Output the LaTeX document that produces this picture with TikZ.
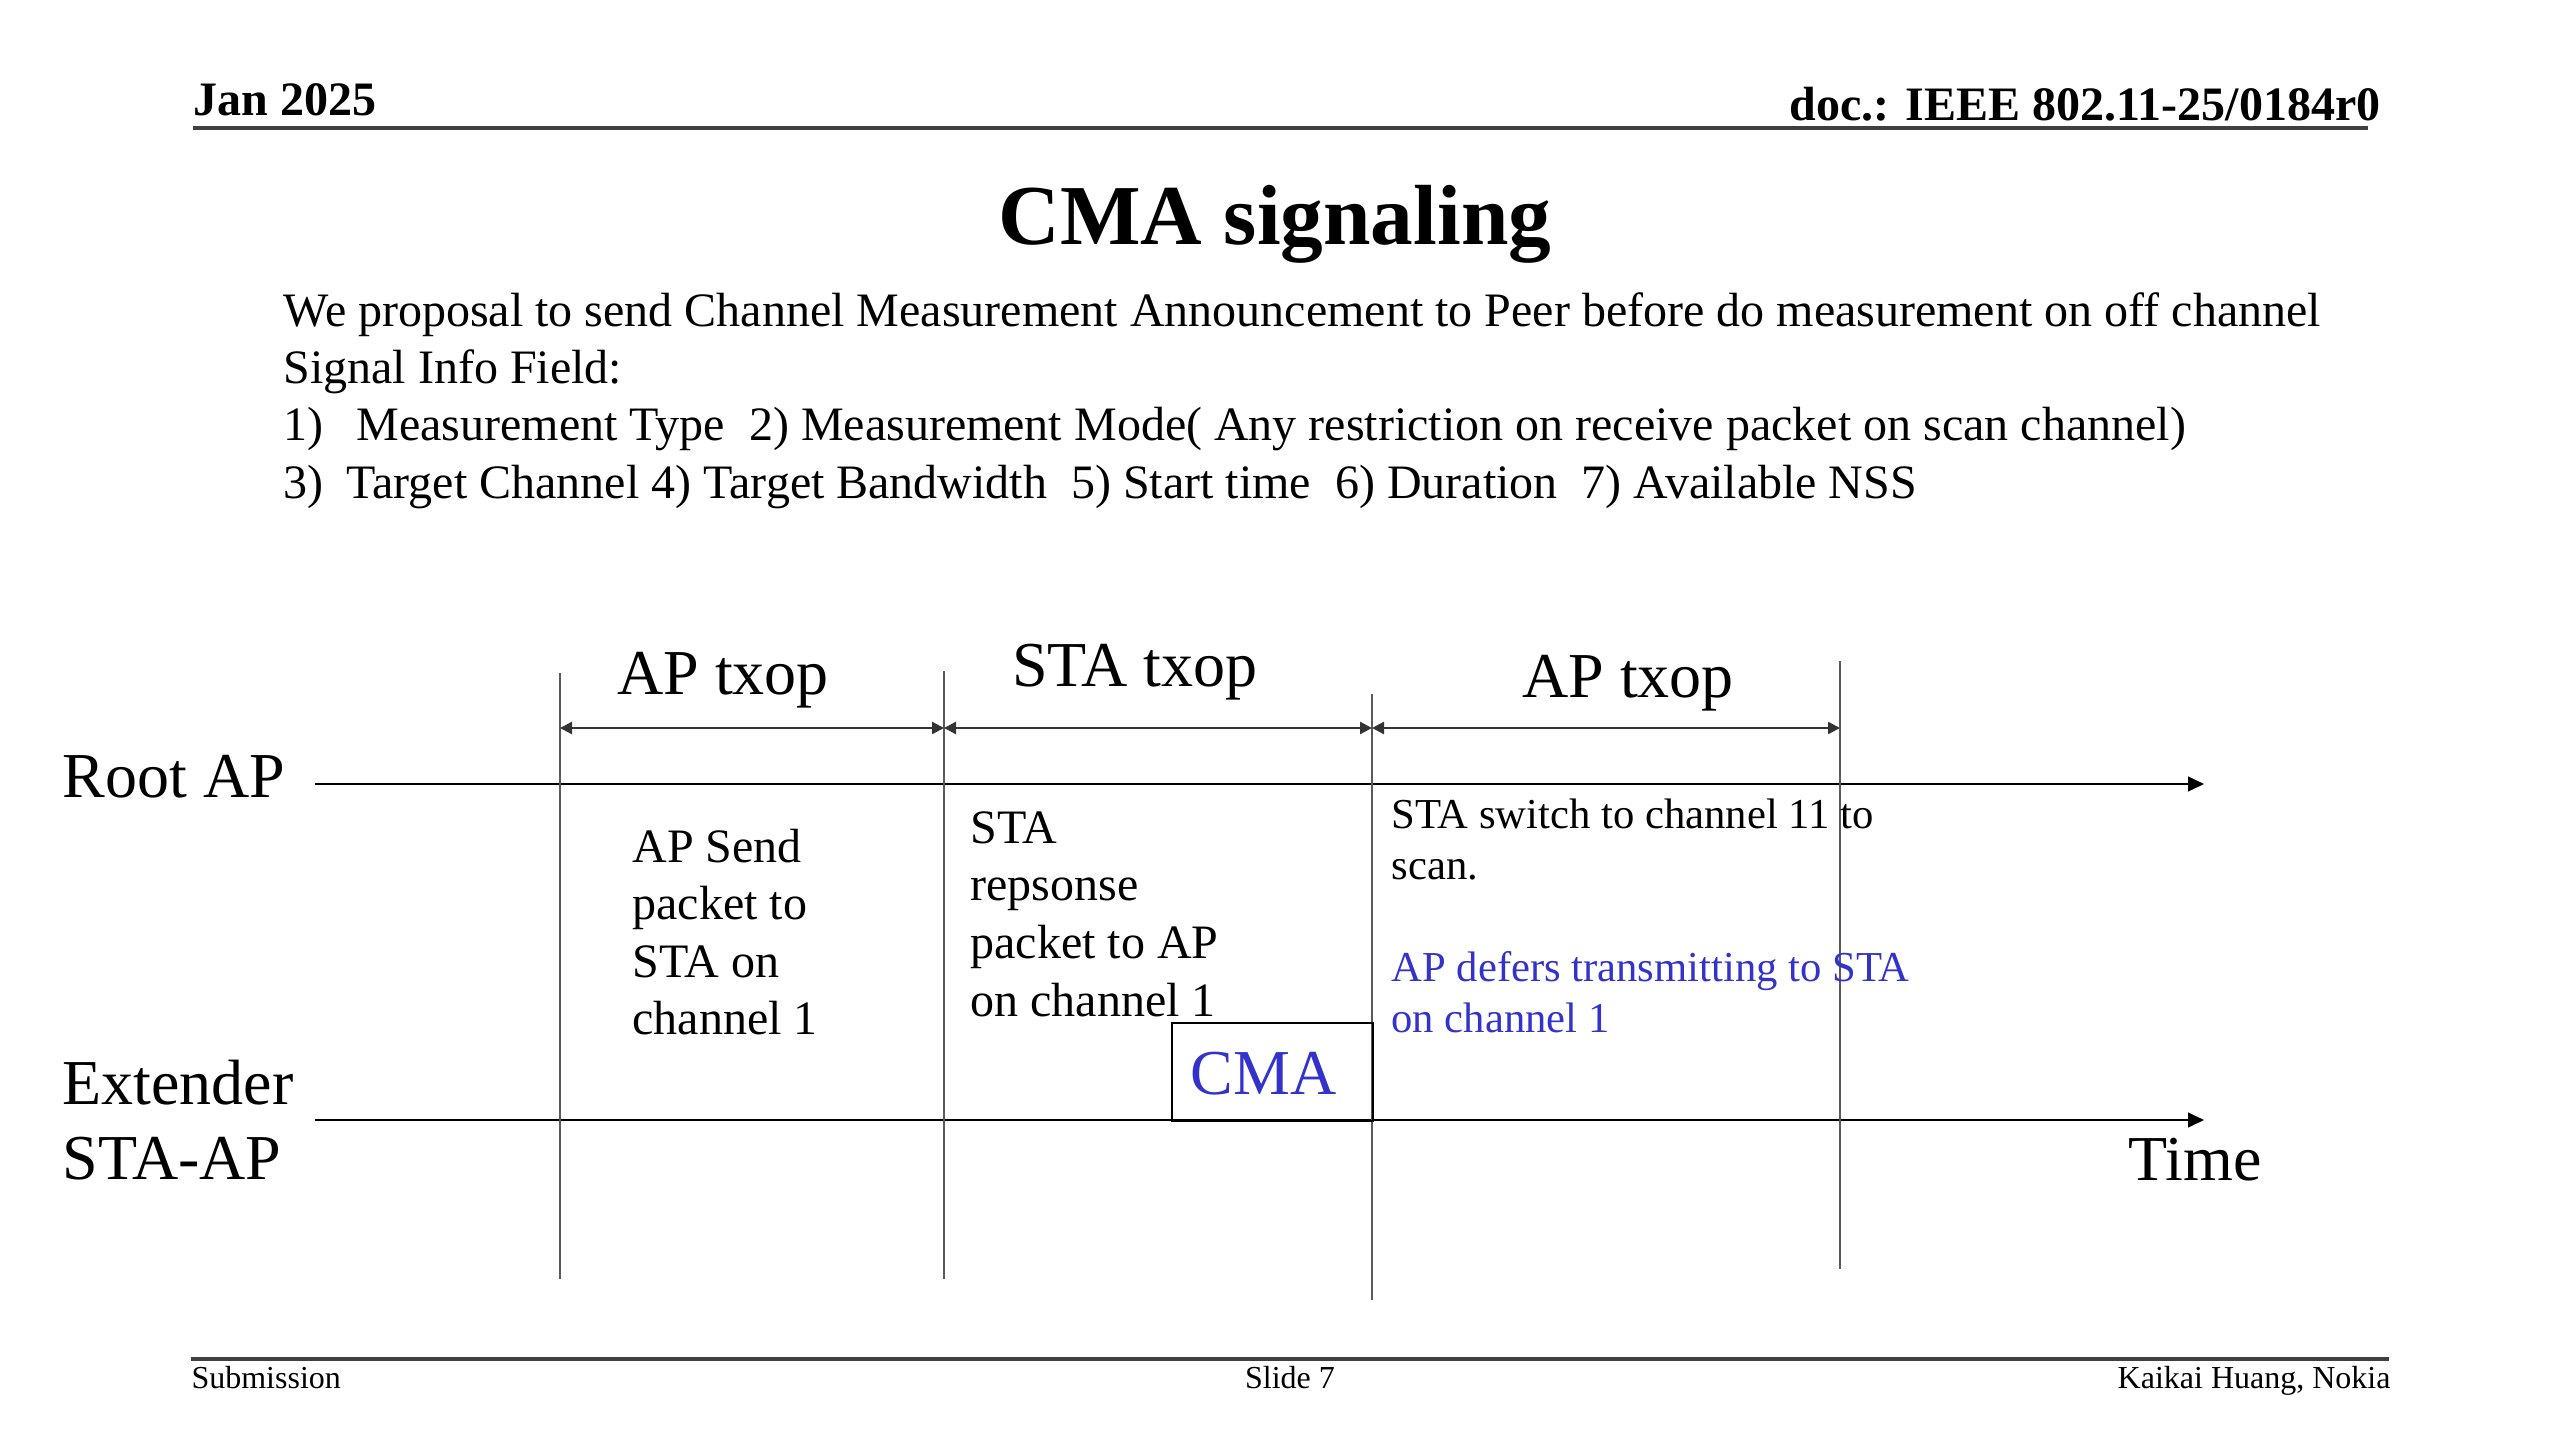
\documentclass[tikz,border=0pt]{standalone}
\usepackage{fontspec}
\setmainfont{Liberation Serif}
\usetikzlibrary{arrows.meta}
\definecolor{cmablue}{RGB}{51,51,204}
\definecolor{vgray}{RGB}{90,90,90}
\newcommand{\fs}[1]{\fontsize{#1}{1.2\dimexpr #1pt\relax}\selectfont}
\begin{document}
\begin{tikzpicture}[x=0.375pt,y=-0.375pt,
  txt/.style={inner sep=0pt, anchor=base west},
  hdr/.style={inner sep=0pt, font=\bfseries\fs{18}},
  ftr/.style={inner sep=0pt, font=\fs{12}},
  body/.style={txt, font=\fs{18}},
  big/.style={inner sep=0pt, font=\fs{24}},
  rule/.style={draw=black!75, line width=1.2pt},
  axis/.style={draw=black, line width=0.9pt, -{Triangle[length=6pt,width=5.5pt]}},
  vline/.style={draw=vgray, line width=0.75pt},
  span/.style={draw=black!80, line width=0.9pt, {Triangle[length=4.5pt,width=4.5pt]}-{Triangle[length=4.5pt,width=4.5pt]}},
  small/.style={txt, font=\fs{16}}
]
\useasboundingbox (0,0) rectangle (2560,1440);

% header
\node[hdr, anchor=base west] (date) at (193,116) {Jan 2025};
\node[hdr, anchor=base east] (doc) at (2381,121) {doc.: IEEE 802.11-25/0184r0};
\coordinate (hl) at (193,128);
\coordinate (hr) at (2368,128);
\draw[rule] (hl) -- (hr);

% title
\node[inner sep=0pt, anchor=base, font=\bfseries\fs{32}] (title) at (1275,245) {CMA signaling};

% body text
\node[body] (b1) at (283,327) {We proposal to send Channel Measurement Announcement to Peer before do measurement on off channel};
\node[body] (b2) at (283,384) {Signal Info Field:};
\node[body] (b3a) at (283,441) {1)};
\node[body] (b3b) at (356,441) {Measurement Type\ \ 2) Measurement Mode( Any restriction on receive packet on scan channel)};
\node[body] (b4a) at (283,498) {3)};
\node[body] (b4b) at (346,498) {Target Channel 4) Target Bandwidth\ \ 5) Start time\ \ 6) Duration\ \ 7) Available NSS};

% row labels
\node[big, anchor=base west] (root) at (62,797) {Root AP};
\node[big, anchor=base west] (ext1) at (62,1104) {Extender};
\node[big, anchor=base west] (ext2) at (62,1179) {STA-AP};
\node[big, anchor=base west] (time) at (2128,1180) {Time};

% axes
\coordinate (ra0) at (315,784);
\coordinate (ra1) at (2204,784);
\coordinate (ea0) at (315,1120);
\coordinate (ea1) at (2204,1120);
\draw[axis] (ra0) -- (ra1);
\draw[axis] (ea0) -- (ea1);

% vertical boundaries
\coordinate (v1t) at (560,673);  \coordinate (v1b) at (560,1279);
\coordinate (v2t) at (944,671);  \coordinate (v2b) at (944,1279);
\coordinate (v3t) at (1372,694); \coordinate (v3b) at (1372,1300);
\coordinate (v4t) at (1840,661); \coordinate (v4b) at (1840,1269);
\draw[vline] (v1t) -- (v1b);
\draw[vline] (v2t) -- (v2b);
\draw[vline] (v3t) -- (v3b);
\draw[vline] (v4t) -- (v4b);

% txop spans
\coordinate (s1) at (560,728);
\coordinate (s2) at (944,728);
\coordinate (s3) at (1372,728);
\coordinate (s4) at (1840,728);
\draw[span] (s1) -- (s2);
\draw[span] (s2) -- (s3);
\draw[span] (s3) -- (s4);
\node[big, anchor=base] (t1) at (723,694) {AP txop};
\node[big, anchor=base] (t2) at (1135,686) {STA txop};
\node[big, anchor=base] (t3) at (1628,697) {AP txop};

% descriptions
\node[body] (d1a) at (632,862) {AP Send};
\node[body] (d1b) at (632,919) {packet to};
\node[body] (d1c) at (632,977) {STA on};
\node[body] (d1d) at (632,1034) {channel 1};
\node[body] (d2a) at (970,843) {STA};
\node[body] (d2b) at (970,900) {repsonse};
\node[body] (d2c) at (970,958) {packet to AP};
\node[body] (d2d) at (970,1016) {on channel 1};
\node[small] (d3a) at (1391,828) {STA switch to channel 11 to};
\node[small] (d3b) at (1391,879) {scan.};
\node[small, text=cmablue] (d4a) at (1391,981) {AP defers transmitting to STA};
\node[small, text=cmablue] (d4b) at (1391,1032) {on channel 1};

% CMA box
\node[draw=black, line width=0.8pt, inner sep=0pt, minimum width=75.4pt, minimum height=36.75pt, anchor=north west] (cma) at (1171,1022) {};
\node[big, text=cmablue, anchor=base west] (cmat) at (1190,1094) {CMA};

% footer
\coordinate (fl) at (191,1359);
\coordinate (fr) at (2389,1359);
\draw[rule] (fl) -- (fr);
\node[ftr, anchor=base west] (sub) at (191,1388) {Submission};
\node[ftr, anchor=base] (slide) at (1290,1388) {Slide 7};
\node[ftr, anchor=base east] (auth) at (2391,1388) {Kaikai Huang, Nokia};
\end{tikzpicture}
\end{document}
